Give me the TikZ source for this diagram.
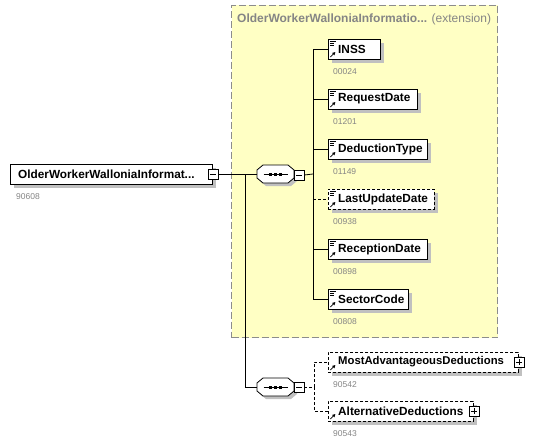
\documentclass[tikz,border=0pt]{standalone}
\usepackage{fontspec}
\setmainfont{Liberation Sans}
\usetikzlibrary{shadows,arrows.meta}
\definecolor{extfill}{HTML}{FFFFC4}
\definecolor{extborder}{HTML}{8C8C8C}
\definecolor{shadowgray}{HTML}{C0C0C0}
\definecolor{codegray}{HTML}{858585}
\newcommand\drawcompo[1]{%
 \begin{scope}[shift={(#1.center)}]
  \fill[shadowgray] (-15.5,-1) -- (-9.5,-6) -- (15.5,-6) -- (21.5,-1) -- (21.5,7) -- (15.5,12) -- (-9.5,12) -- (-15.5,7) -- cycle;
  \draw[fill=white, line width=0.8pt] (-18.5,-4) -- (-12.5,-9) -- (12.5,-9) -- (18.5,-4) -- (18.5,4) -- (12.5,9) -- (-12.5,9) -- (-18.5,4) -- cycle;
  \draw[line width=0.8pt] (-12,0) -- (12,0);
  \fill (-6.5,-1.5) rectangle (-3.5,1.5);
  \fill (-1.5,-1.5) rectangle (1.5,1.5);
  \fill (3.5,-1.5) rectangle (6.5,1.5);
 \end{scope}}
\begin{document}
\begin{tikzpicture}[x=1pt,y=-1pt,
  elembox/.style={draw=black, fill=white, line width=0.8pt, minimum height=20pt, inner sep=0pt, anchor=west,
    drop shadow={shadow xshift=4pt, shadow yshift=-4pt, fill=shadowgray, opacity=1}},
  optbox/.style={elembox, dash pattern=on 3pt off 2pt},
  iconboth/.style={path picture={
    \draw[line width=0.6pt, solid] ([shift={(1.5pt,-2pt)}]path picture bounding box.north west) -- ++(6pt,0pt);
    \draw[line width=0.6pt, solid] ([shift={(1.5pt,-4pt)}]path picture bounding box.north west) -- ++(4.5pt,0pt);
    \draw[line width=0.6pt, solid] ([shift={(1.5pt,-6pt)}]path picture bounding box.north west) -- ++(4.5pt,0pt);
    \draw[line width=0.8pt, solid, -{Triangle[length=3pt,width=3pt]}] ([shift={(2pt,2pt)}]path picture bounding box.south west) -- ++(5pt,5pt);
  }},
  iconarrow/.style={path picture={
    \draw[line width=0.8pt, solid, -{Triangle[length=3pt,width=3pt]}] ([shift={(2pt,2pt)}]path picture bounding box.south west) -- ++(5pt,5pt);
  }},
  lbl/.style={font=\bfseries\fontsize{11.8}{13}\selectfont, inner sep=0pt, anchor=west},
  code/.style={font=\fontsize{8.5}{10}\selectfont, text=codegray, inner sep=0pt, anchor=west},
  btn/.style={draw=black, fill=white, line width=0.6pt, minimum size=10pt, inner sep=0pt},
  minusbtn/.style={btn, path picture={\draw[line width=0.6pt] ([xshift=2pt]path picture bounding box.west) -- ([xshift=-2pt]path picture bounding box.east);}},
  plusbtn/.style={btn, path picture={\draw[line width=0.6pt] ([xshift=2pt]path picture bounding box.west) -- ([xshift=-2pt]path picture bounding box.east);
     \draw[line width=0.6pt] ([yshift=-2pt]path picture bounding box.north) -- ([yshift=2pt]path picture bounding box.south);}},
  compo/.style={draw=none, minimum width=37pt, minimum height=18pt, inner sep=0pt},
  conn/.style={draw=black, line width=0.8pt},
  optconn/.style={conn, dash pattern=on 3pt off 2pt}
]
\useasboundingbox (0,0) rectangle (551,444);

% extension container
\node[draw=extborder, fill=extfill, line width=1pt, dash pattern=on 7pt off 3pt,
      minimum width=266pt, minimum height=332pt, anchor=north west, inner sep=0pt] (ext) at (231,5) {};
\node[inner sep=0pt, anchor=west, text=codegray, font=\fontsize{12}{14}\selectfont] (exttitle) at (237,19)
  {\textbf{OlderWorkerWalloniaInformatio...} (extension)};

% main element
\node[elembox, minimum width=202pt] (main) at (10,174) {};
\node[lbl] (mainlbl) at ([xshift=8pt]main.west) {OlderWorkerWalloniaInformat...};
\node[code] (maincode) at ([shift={(6pt,-23pt)}]main.west) {90608};
\node[minusbtn] (mainbtn) at (main.east) {};

% sequences
\node[compo] (seq1) at (275.5,174) {};
\node[compo] (seq2) at (275.5,387) {};
\drawcompo{seq1}
\drawcompo{seq2}
\node[minusbtn] (btn1) at (299,175) {};
\node[minusbtn] (btn2) at (299,387) {};

% children of first sequence
\node[elembox, iconboth, minimum width=52pt] (inss) at (328,49) {};
\node[elembox, iconboth, minimum width=89pt] (reqdate) at (328,99) {};
\node[elembox, iconboth, minimum width=99pt] (dedtype) at (328,149) {};
\node[optbox, iconboth, minimum width=106pt] (lud) at (328,199) {};
\node[elembox, iconboth, minimum width=99pt] (recdate) at (328,249) {};
\node[elembox, iconboth, minimum width=80pt] (sector) at (328,299) {};

\node[lbl] (inssl) at ([xshift=10pt]inss.west) {INSS};
\node[lbl] (reqdatel) at ([xshift=10pt]reqdate.west) {RequestDate};
\node[lbl] (dedtypel) at ([xshift=10pt]dedtype.west) {DeductionType};
\node[lbl] (ludl) at ([xshift=10pt]lud.west) {LastUpdateDate};
\node[lbl] (recdatel) at ([xshift=10pt]recdate.west) {ReceptionDate};
\node[lbl] (sectorl) at ([xshift=10pt]sector.west) {SectorCode};

\node[code] (inssc) at ([shift={(5pt,-23pt)}]inss.west) {00024};
\node[code] (reqdatec) at ([shift={(5pt,-23pt)}]reqdate.west) {01201};
\node[code] (dedtypec) at ([shift={(5pt,-23pt)}]dedtype.west) {01149};
\node[code] (ludc) at ([shift={(5pt,-23pt)}]lud.west) {00938};
\node[code] (recdatec) at ([shift={(5pt,-23pt)}]recdate.west) {00898};
\node[code] (sectorc) at ([shift={(5pt,-23pt)}]sector.west) {00808};

% children of second sequence
\node[optbox, iconarrow, minimum width=190pt] (mad) at (328,362) {};
\node[optbox, iconarrow, minimum width=145pt] (alt) at (328,411) {};
\node[lbl, font=\bfseries\fontsize{11.3}{13}\selectfont] (madl) at ([xshift=10pt]mad.west) {MostAdvantageousDeductions};
\node[lbl] (altl) at ([xshift=10pt]alt.west) {AlternativeDeductions};
\node[plusbtn] (madbtn) at (mad.east) {};
\node[plusbtn] (altbtn) at (alt.east) {};
\node[code] (madc) at ([shift={(5pt,-23pt)}]mad.west) {90542};
\node[code] (altc) at ([shift={(5pt,-23pt)}]alt.west) {90543};

% connectors
\coordinate (j1) at (245,174);
\coordinate (bus1) at (313,174);
\coordinate (bus2) at (314,387);
\draw[conn] (mainbtn.east) -- (seq1.west);
\draw[conn] (j1) |- (seq2.west);
\draw[conn] (btn1.east) -- (bus1);
\draw[conn] (bus1) |- (inss.west);
\draw[conn] (bus1) |- (reqdate.west);
\draw[conn] (bus1) |- (dedtype.west);
\draw[conn] (bus1) |- (recdate.west);
\draw[conn] (bus1) |- (sector.west);
\draw[optconn] (lud.west -| bus1) -- (lud.west);
\draw[optconn] (btn2.east) -- (bus2);
\draw[optconn] (bus2) |- (mad.west);
\draw[optconn] (bus2) |- (alt.west);
\end{tikzpicture}
\end{document}
